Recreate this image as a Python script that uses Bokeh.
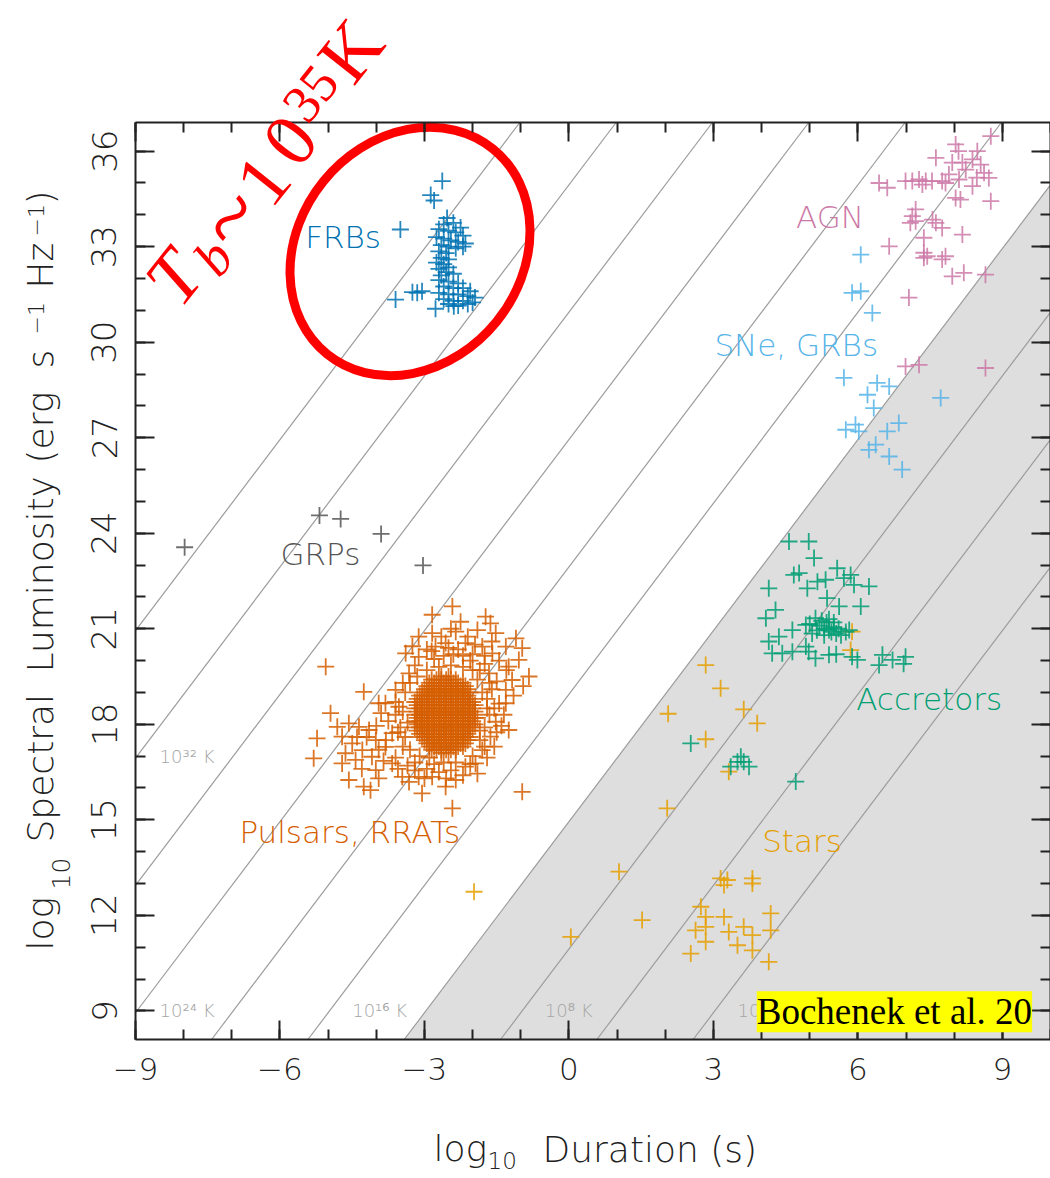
import math
from bokeh.plotting import figure
from bokeh.models import Range1d, FixedTicker, LinearAxis, Label
from bokeh.embed import file_html
from bokeh.resources import INLINE
from bokeh.core.properties import value

# ---------------------------------------------------------------------------
# Transient phase space: log10 duration [s] vs log10 spectral luminosity
# [erg s^-1 Hz^-1]; every point is (log10 duration, log10 luminosity).
# ---------------------------------------------------------------------------
frbs = [
    (-2.63, 35.06), (-2.87, 34.62), (-2.80, 34.45), (-3.50, 33.54),
    (-3.60, 31.34), (-3.25, 31.57), (-3.15, 31.55), (-3.05, 31.60),
    (-2.77, 31.05), (-2.39, 31.13),
    (-2.53, 33.90), (-2.40, 33.75), (-2.60, 33.70), (-2.25, 33.60),
    (-2.70, 33.55), (-2.50, 33.50), (-2.35, 33.45), (-2.20, 33.35),
    (-2.75, 33.30), (-2.60, 33.25), (-2.45, 33.20), (-2.30, 33.15),
    (-2.15, 33.10), (-2.65, 33.05), (-2.50, 33.00), (-2.35, 32.95),
    (-2.20, 33.00),
    (-2.70, 32.85), (-2.55, 32.80), (-2.65, 32.65), (-2.50, 32.60),
    (-2.75, 32.50), (-2.60, 32.45), (-2.50, 32.35), (-2.70, 32.30),
    (-2.55, 32.20), (-2.65, 32.10), (-2.40, 32.15),
    (-2.70, 31.95), (-2.50, 31.90), (-2.30, 31.85), (-2.60, 31.75),
    (-2.40, 31.70), (-2.20, 31.70), (-2.05, 31.60), (-2.70, 31.55),
    (-2.50, 31.50), (-2.30, 31.50), (-2.10, 31.45), (-1.95, 31.40),
    (-2.60, 31.35), (-2.40, 31.30), (-2.20, 31.30), (-2.00, 31.25),
    (-2.50, 31.20), (-2.30, 31.15), (-2.10, 31.20),
]

agn = [
    (8.76, 36.47), (8.03, 36.21), (8.09, 36.00), (7.62, 35.79), (8.48, 36.00),
    (8.38, 35.74), (7.96, 35.64), (8.17, 35.64), (8.55, 35.58), (8.62, 35.32),
    (8.72, 35.16), (8.24, 35.42), (7.89, 35.27), (8.10, 35.11), (8.38, 34.90),
    (8.47, 35.17), (7.75, 35.06), (7.82, 35.00), (7.54, 35.06), (7.41, 35.06),
    (7.27, 35.11), (7.34, 34.95), (7.13, 35.06), (6.99, 35.06), (6.61, 34.85),
    (6.44, 35.00), (8.13, 34.48), (8.03, 34.53), (8.76, 34.43), (7.20, 34.17),
    (7.13, 33.96), (7.09, 33.75), (7.20, 33.80), (7.55, 33.85), (7.62, 33.75),
    (7.75, 33.59), (8.17, 33.38), (7.37, 33.28), (6.65, 33.01), (7.37, 32.81),
    (7.44, 32.70), (7.37, 32.65), (7.82, 32.70), (7.75, 32.60), (7.96, 32.07),
    (8.20, 32.18), (8.65, 32.12), (7.06, 31.40), (6.99, 29.24), (7.27, 29.29),
    (8.65, 29.19),
]

sne_grbs = [
    (6.06, 32.75), (5.88, 31.55), (6.06, 31.60), (6.30, 30.92), (5.71, 28.88),
    (6.40, 28.72), (6.65, 28.61), (6.20, 28.35), (6.33, 27.93), (7.72, 28.25),
    (5.95, 27.41), (5.75, 27.25), (6.02, 27.20), (6.85, 27.46), (6.61, 27.20),
    (6.37, 26.78), (6.23, 26.62), (6.65, 26.41), (6.92, 26.00),
]

grps = [(-7.98, 23.56), (-5.18, 24.56), (-4.74, 24.45), (-3.90, 23.98), (-3.03, 22.99)]

pulsars_outer = [
    (-2.84, 21.44), (-2.42, 21.70), (-2.25, 21.22), (-1.73, 21.38), (-1.63, 21.17),
    (-2.84, 20.86), (-3.12, 20.75), (-2.35, 20.91), (-1.90, 20.96), (-1.52, 20.86),
    (-1.31, 20.44), (-0.97, 20.39), (-1.04, 20.02), (-0.83, 19.50), (-1.25, 19.81),
    (-1.18, 19.39), (-1.31, 19.08), (-1.31, 18.66), (-1.25, 17.82), (-1.52, 18.08),
    (-3.39, 20.23), (-3.32, 19.60), (-3.60, 19.08), (-3.53, 18.55), (-3.81, 18.66),
    (-3.95, 18.66), (-4.26, 19.02), (-5.05, 19.81), (-4.95, 18.35), (-5.23, 17.56),
    (-5.30, 16.93), (-4.81, 17.92), (-4.57, 18.03), (-4.36, 17.92), (-4.71, 17.61),
    (-4.50, 17.40), (-4.15, 17.82), (-4.01, 17.50), (-4.29, 17.19), (-4.64, 17.09),
    (-4.43, 16.88), (-4.09, 16.98), (-3.81, 17.29), (-3.67, 17.72), (-4.71, 16.77),
    (-4.57, 16.25), (-4.12, 15.93), (-4.26, 16.04), (-4.01, 16.56), (-3.67, 16.77),
    (-3.46, 16.35), (-3.32, 16.19), (-3.05, 15.83), (-3.12, 16.35), (-2.84, 16.35),
    (-2.56, 16.04), (-2.35, 16.25), (-2.15, 16.67), (-1.94, 16.77), (-2.42, 15.36),
    (-0.97, 15.88), (-1.63, 17.61), (-1.80, 17.19), (-1.66, 19.60), (-1.59, 20.23),
    (-2.56, 20.55), (-2.77, 20.44), (-2.15, 20.55), (-1.80, 20.44), (-3.12, 20.12),
    (-3.50, 17.90), (-3.45, 17.30), (-3.60, 16.95), (-3.35, 16.70), (-1.70, 18.80),
    (-1.65, 18.30), (-1.75, 19.90), (-2.00, 20.20), (-2.40, 20.20), (-2.80, 20.05),
    (-3.40, 19.00), (-3.45, 18.40), (-3.40, 17.60), (-3.30, 17.20), (-3.20, 16.80),
    (-2.95, 16.60), (-2.70, 16.50), (-2.45, 16.55), (-2.20, 16.40), (-2.00, 17.00),
    (-1.85, 17.50), (-1.75, 17.90), (-1.70, 18.50), (-1.80, 19.00), (-1.90, 19.40),
    (-2.00, 19.70), (-2.20, 19.80), (-2.45, 19.85), (-2.70, 19.80), (-2.95, 19.70),
    (-3.15, 19.50), (-3.30, 19.30), (-2.60, 20.15), (-2.30, 20.35), (-2.05, 20.00),
    (-1.75, 20.15), (-1.50, 19.35), (-1.45, 18.65), (-1.40, 17.95), (-1.55, 17.30),
    (-1.70, 16.95), (-2.60, 16.80), (-2.90, 16.95), (-3.20, 16.55), (-3.55, 16.60),
    (-3.85, 16.85), (-3.95, 17.20), (-4.20, 17.60), (-3.75, 18.10), (-3.60, 18.30),
    (-3.90, 18.35), (-4.00, 17.95),
    (-3.25, 20.45), (-2.95, 20.35), (-2.65, 20.75), (-2.45, 21.00), (-2.10, 20.75),
    (-1.95, 20.50), (-1.60, 20.60), (-1.45, 20.00), (-1.30, 19.70), (-1.60, 19.10),
    (-1.55, 18.50), (-1.35, 18.30), (-1.50, 17.75), (-1.75, 17.30), (-2.05, 16.75),
    (-2.35, 16.80), (-2.80, 16.75), (-3.10, 17.00), (-3.55, 17.75), (-3.60, 18.70),
    (-3.45, 19.30), (-3.20, 19.85), (-2.85, 20.30), (-2.50, 20.40), (-2.20, 20.15),
    (-1.85, 19.70), (-1.65, 19.30), (-1.90, 18.20), (-1.85, 17.80), (-3.35, 18.05),
    (-3.80, 17.50), (-4.40, 17.60), (-4.30, 16.60), (-3.95, 16.30), (-3.00, 16.30),
    (-2.55, 16.30), (-1.90, 16.45), (-1.15, 18.90), (-0.95, 19.20), (-1.10, 20.70),
]

# the crowded pulsar core, one row per luminosity level
pulsar_core_rows = [
    (19.5, [-2.65, -2.50]),
    (19.4, [-2.85, -2.75, -2.65, -2.55, -2.45, -2.35]),
    (19.3, [-2.90, -2.80, -2.70, -2.60, -2.50, -2.40, -2.30, -2.20]),
    (19.2, [-2.95, -2.85, -2.75, -2.65, -2.55, -2.45, -2.35, -2.25, -2.15]),
    (19.1, [-3.00, -2.90, -2.80, -2.70, -2.60, -2.50, -2.40, -2.30, -2.20, -2.10]),
    (19.0, [-3.05, -2.95, -2.85, -2.75, -2.65, -2.55, -2.45, -2.35, -2.25, -2.15, -2.05]),
    (18.9, [-3.10, -3.00, -2.90, -2.80, -2.70, -2.60, -2.50, -2.40, -2.30, -2.20, -2.10]),
    (18.8, [-3.15, -3.05, -2.95, -2.85, -2.75, -2.65, -2.55, -2.45, -2.35, -2.25, -2.15, -2.05]),
    (18.7, [-3.20, -3.10, -3.00, -2.90, -2.80, -2.70, -2.60, -2.50, -2.40, -2.30, -2.20, -2.10, -2.00]),
    (18.6, [-3.15, -3.05, -2.95, -2.85, -2.75, -2.65, -2.55, -2.45, -2.35, -2.25, -2.15, -2.05, -1.95]),
    (18.5, [-3.20, -3.10, -3.00, -2.90, -2.80, -2.70, -2.60, -2.50, -2.40, -2.30, -2.20, -2.10, -2.00]),
    (18.4, [-3.15, -3.05, -2.95, -2.85, -2.75, -2.65, -2.55, -2.45, -2.35, -2.25, -2.15, -2.05, -1.95]),
    (18.3, [-3.20, -3.10, -3.00, -2.90, -2.80, -2.70, -2.60, -2.50, -2.40, -2.30, -2.20, -2.10, -2.00]),
    (18.2, [-3.15, -3.05, -2.95, -2.85, -2.75, -2.65, -2.55, -2.45, -2.35, -2.25, -2.15, -2.05, -1.95]),
    (18.1, [-3.20, -3.10, -3.00, -2.90, -2.80, -2.70, -2.60, -2.50, -2.40, -2.30, -2.20, -2.10, -2.00]),
    (18.0, [-3.15, -3.05, -2.95, -2.85, -2.75, -2.65, -2.55, -2.45, -2.35, -2.25, -2.15, -2.05, -1.95]),
    (17.9, [-3.20, -3.10, -3.00, -2.90, -2.80, -2.70, -2.60, -2.50, -2.40, -2.30, -2.20, -2.10, -2.00]),
    (17.8, [-3.15, -3.05, -2.95, -2.85, -2.75, -2.65, -2.55, -2.45, -2.35, -2.25, -2.15, -2.05]),
    (17.7, [-3.10, -3.00, -2.90, -2.80, -2.70, -2.60, -2.50, -2.40, -2.30, -2.20, -2.10]),
    (17.6, [-3.05, -2.95, -2.85, -2.75, -2.65, -2.55, -2.45, -2.35, -2.25, -2.15, -2.05]),
    (17.5, [-3.00, -2.90, -2.80, -2.70, -2.60, -2.50, -2.40, -2.30, -2.20, -2.10]),
    (17.4, [-2.95, -2.85, -2.75, -2.65, -2.55, -2.45, -2.35, -2.25, -2.15]),
    (17.3, [-2.90, -2.80, -2.70, -2.60, -2.50, -2.40, -2.30, -2.20]),
    (17.2, [-2.85, -2.75, -2.65, -2.55, -2.45, -2.35]),
    (17.1, [-2.65, -2.50]),
]

accretors = [
    (4.57, 23.74), (4.98, 23.74), (5.09, 23.22), (4.67, 22.69), (4.78, 22.75),
    (4.15, 22.27), (4.95, 22.27), (5.16, 22.48), (5.33, 22.54), (5.57, 22.90),
    (5.71, 22.59), (5.85, 22.69), (5.92, 22.38), (6.23, 22.33), (5.36, 21.96),
    (5.61, 21.70), (6.06, 21.70), (4.29, 21.59), (4.09, 21.33), (4.64, 20.96),
    (4.92, 21.12), (5.12, 21.33), (5.40, 20.96), (4.15, 20.60), (4.36, 20.75),
    (4.22, 20.23), (4.43, 20.23), (4.64, 20.28), (4.92, 20.44), (4.98, 20.28),
    (5.40, 20.18), (5.88, 20.12), (5.99, 20.02), (6.51, 20.18), (6.44, 19.86),
    (6.72, 20.02), (6.99, 20.12), (6.95, 19.90), (5.82, 20.96), (5.12, 20.07),
    (5.55, 20.20), (5.20, 21.10), (5.30, 21.00), (5.35, 21.20), (5.45, 20.90),
    (5.50, 21.05), (5.55, 20.85), (5.30, 20.80), (5.15, 20.95), (5.60, 21.00),
    (5.65, 20.80), (5.40, 21.30), (5.05, 20.85), (5.75, 20.90), (5.00, 21.15),
    (5.25, 21.25), (5.50, 21.20),
    (2.53, 17.40), (3.57, 16.98), (3.50, 16.82), (3.63, 16.82), (3.74, 16.67),
    (3.36, 16.67), (4.71, 16.20),
]

stars = [
    (2.84, 19.86), (3.15, 19.13), (3.63, 18.47), (3.91, 18.03), (2.84, 17.53),
    (2.06, 18.33), (3.32, 16.51), (5.88, 20.91), (5.85, 20.33), (2.04, 15.36),
    (1.04, 13.37), (1.52, 11.85), (0.04, 11.32), (3.15, 13.16), (3.29, 13.11),
    (3.22, 12.95), (3.81, 13.16), (3.81, 13.00), (2.74, 12.27), (2.84, 11.95),
    (3.22, 11.95), (2.63, 11.53), (2.84, 11.64), (3.32, 11.48), (3.63, 11.64),
    (3.81, 11.38), (4.19, 12.06), (4.19, 11.53), (2.84, 11.17), (2.53, 10.80),
    (3.50, 11.06), (3.81, 10.90), (4.15, 10.54), (-1.97, 12.74),
]

# brightness-temperature contours: log10 T_b [K], slope 2 in this plane
tb_log_k = [0, 4, 8, 12, 16, 20, 24, 28, 32, 36]
tb_offset = 2.94          # log10(2 pi k nu^2) for nu = 1 GHz
tb_shade_below = 12       # region below 10^12 K is shaded
tb_labels = [(32, 17.0), (24, 9.0), (16, 9.0), (8, 9.0), (0, 9.0)]

x_ticks = [-9, -6, -3, 0, 3, 6, 9]
y_ticks = [9, 12, 15, 18, 21, 24, 27, 30, 33, 36]

# ---------------------------------------------------------------------------
# Page geometry.  The Bokeh frame fills the whole canvas; the data box
# [X0, X1] x [Y0, Y1] sits inside it and is drawn by four fixed-location axes,
# so titles and the rotated note may spill outside the box.
W, H = 1050, 1178
X0, X1 = -9.0, 10.0
Y0, Y1 = 8.1, 36.9
BOX_L, BOX_R, BOX_T, BOX_B = 135, 1050, 122, 1039
PX_X = (BOX_R - BOX_L) / (X1 - X0)
PX_Y = (BOX_B - BOX_T) / (Y1 - Y0)
XR0, XR1 = X0 - BOX_L / PX_X, X1 + (W - BOX_R) / PX_X
YR0, YR1 = Y0 - (H - BOX_B) / PX_Y, Y1 + BOX_T / PX_Y


def at(sx, sy):
    """Page pixel (from top-left) -> data coordinates."""
    return XR0 + sx / PX_X, YR1 - sy / PX_Y


FONT = "DejaVu Sans ExtraLight, DejaVu Sans Light, DejaVu Sans"
SERIF = "Liberation Serif"
INK = "#222222"
DESCENT = 0.236           # DejaVu Sans descender, in em

p = figure(width=W, height=H, x_range=Range1d(XR0, XR1), y_range=Range1d(YR0, YR1),
           output_backend="svg", toolbar_location=None,
           min_border=0, min_border_left=0, min_border_right=0,
           min_border_top=0, min_border_bottom=0)
p.grid.visible = False
p.background_fill_color = "white"
p.border_fill_color = "white"
p.outline_line_color = None


def text_on_baseline(x, y, txt, size, color=INK, align="left", vertical=False):
    """Label whose alphabetic baseline passes through (x, y) in data units."""
    shift = DESCENT * size
    if vertical:
        x += shift / PX_X
    else:
        y -= shift / PX_Y
    p.add_layout(Label(x=x, y=y, text=txt, text_font=FONT, text_font_size=f"{size}px",
                       text_color=color, text_align=align, text_baseline="bottom",
                       angle=math.pi / 2 if vertical else 0))


# shaded incoherent region
c_shade = tb_shade_below + tb_offset
p.patch([(Y0 - c_shade) / 2, X1, X1], [Y0, Y0, 2 * X1 + c_shade],
        fill_color="#dedede", line_color=None)

# T_b contours, cut to the data box
xs, ys = [], []
for t in tb_log_k:
    c = t + tb_offset
    xa_, xb_ = max(X0, (Y0 - c) / 2), min(X1, (Y1 - c) / 2)
    if xa_ < xb_:
        xs.append([xa_, xb_])
        ys.append([2 * xa_ + c, 2 * xb_ + c])
p.multi_line(xs, ys, line_color="#9c9c9c", line_width=1.2)

sup = str.maketrans("0123456789", "⁰¹²³⁴⁵⁶⁷⁸⁹")
p.text(x=[(yl - (t + tb_offset)) / 2 + 0.47 for t, yl in tb_labels],
       y=[yl for t, yl in tb_labels],
       text=["10" + str(t).translate(sup) + " K" for t, yl in tb_labels],
       text_font=value(FONT), text_font_size="18px", text_color="#a6a6a6",
       text_align="left", text_baseline="alphabetic")


def crosses(pts, color):
    xv, yv = zip(*pts)
    p.scatter(list(xv), list(yv), marker="cross", size=17, line_color=color,
              line_width=1.8, line_alpha=0.85)


pulsars = pulsars_outer + [(x, y) for y, row in pulsar_core_rows for x in row]
crosses(pulsars, "#D55E00")
crosses(grps, "#555555")
crosses(frbs, "#0072B2")
crosses(agn, "#CC79A7")
crosses(sne_grbs, "#56B4E9")
crosses(stars, "#E69F00")
crosses(accretors, "#009E73")

# class names (centre x, baseline y)
for txt, x, y, col in [
    ("FRBs", -4.69, 32.96, "#0072B2"),
    ("AGN", 5.42, 33.59, "#CC79A7"),
    ("SNe, GRBs", 4.72, 29.58, "#56B4E9"),
    ("GRPs", -5.16, 23.01, "#555555"),
    ("Pulsars, RRATs", -4.55, 14.28, "#D55E00"),
    ("Accretors", 7.48, 18.47, "#009E73"),
    ("Stars", 4.84, 13.99, "#E69F00"),
]:
    text_on_baseline(x, y, txt, 31, color=col, align="center")

# highlighted FRB region
p.ellipse(x=[-3.30], y=[32.85], width=[5.48], height=[7.0], angle=math.radians(51),
          fill_color=None, line_color="#ff0000", line_width=9)

p.add_layout(Label(x=3.9, y=8.33, text="Bochenek et al. 20", text_font=SERIF,
                   text_font_size="37px", text_color="black",
                   background_fill_color="#ffff00", text_align="left",
                   text_baseline="bottom"))

# rotated "T_b ~ 10^35 K" note (glyph centres in page pixels)
ang = math.radians(51.5)
for txt, sx, sy, size, style in [
    ("T", 173, 277, 75, "italic"),
    ("b", 213, 257, 54, "italic"),
    ("~", 230, 217, 95, "normal"),
    ("1", 263, 180, 75, "normal"),
    ("0", 290, 140, 75, "normal"),
    ("35", 310, 93, 54, "normal"),
    ("K", 350, 50, 75, "normal"),
]:
    x, y = at(sx, sy)
    p.add_layout(Label(x=x, y=y, text=txt, angle=ang, text_color="#ff0000",
                       text_font=SERIF, text_font_style=style,
                       text_font_size=f"{size}px",
                       text_align="center", text_baseline="middle"))

# axis titles, set piece by piece so the sub/superscripts keep their size
for txt, sx, sy, size in [
    ("log", 433, 1160, 36),
    ("10", 487, 1163, 23),
    ("Duration (s)", 542, 1161, 36),
]:
    x, y = at(sx, sy)
    text_on_baseline(x, y, txt, size)

for txt, bx, start, size in [
    ("log", 52, 950, 36),
    ("10", 64, 889, 25),
    ("Spectral", 52, 842, 36),
    ("Luminosity", 52, 672, 36),
    ("(erg", 52, 463, 36),
    ("s", 52, 368, 36),
    ("−1", 38, 334, 22),
    ("Hz", 52, 288, 36),
    ("−1", 38, 236, 22),
    (")", 52, 204, 36),
]:
    x, y = at(bx, start)
    text_on_baseline(x, y, txt, size, vertical=True)


# axes: PGPLOT-style box with inward ticks on all four sides
def style_axis(ax, loc, bounds):
    ax.fixed_location = loc
    ax.bounds = bounds
    ax.axis_line_width = 2
    ax.axis_line_color = INK
    ax.major_tick_line_width = 2
    ax.minor_tick_line_width = 2
    ax.major_tick_line_color = INK
    ax.minor_tick_line_color = INK
    ax.major_tick_in = 19
    ax.major_tick_out = 0
    ax.minor_tick_in = 10
    ax.minor_tick_out = 0


xa = p.xaxis[0]
ya = p.yaxis[0]
xa.ticker = FixedTicker(ticks=x_ticks, minor_ticks=list(range(-9, 11)))
ya.ticker = FixedTicker(ticks=y_ticks, minor_ticks=list(range(9, 37)))
style_axis(xa, Y0, (X0, X1))
style_axis(ya, X0, (Y0, Y1))
xa.major_label_overrides = {v: str(v).replace("-", "−") for v in x_ticks}
xa.major_label_text_font = FONT
xa.major_label_text_font_size = "31px"
xa.major_label_text_color = INK
xa.major_label_standoff = 18
ya.major_label_text_font = FONT
ya.major_label_text_font_size = "34px"
ya.major_label_text_color = INK
ya.major_label_orientation = "vertical"
ya.major_label_standoff = 19

top = LinearAxis(ticker=FixedTicker(ticks=x_ticks, minor_ticks=list(range(-9, 11))),
                 major_label_text_font_size="0px", major_label_text_color=None,
                 major_label_standoff=0)
right = LinearAxis(ticker=FixedTicker(ticks=y_ticks, minor_ticks=list(range(9, 37))),
                   major_label_text_font_size="0px", major_label_text_color=None,
                   major_label_standoff=0)
style_axis(top, Y1, (X0, X1))
style_axis(right, X1, (Y0, Y1))
p.add_layout(top, "above")
p.add_layout(right, "right")

open("out.html", "w").write(file_html(p, INLINE))
